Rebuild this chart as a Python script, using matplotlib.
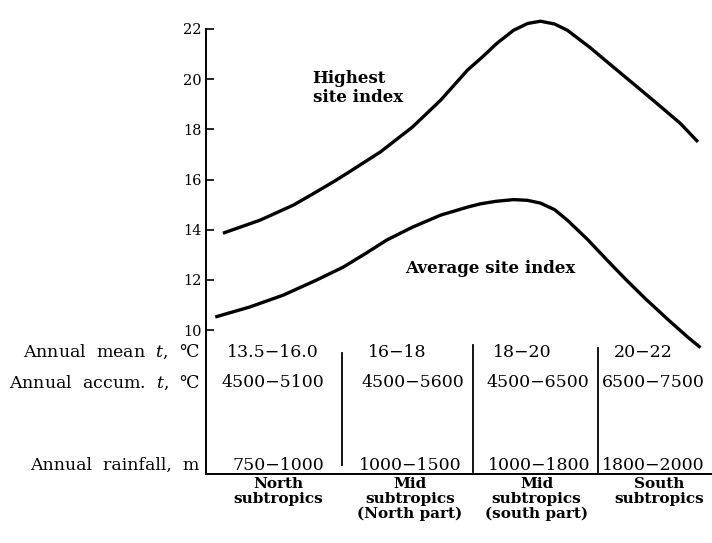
import matplotlib
matplotlib.use("Agg")
import matplotlib.pyplot as plt

plt.rcParams["font.family"] = ["DejaVu Serif"]
plt.rcParams["mathtext.fontset"] = "dejavuserif"

# Curves (zone position along the gradient, site index)
highest_x = [0.07, 0.36, 0.62, 0.77, 0.93, 1.04, 1.30, 1.55, 1.77, 1.98, 2.10, 2.21, 2.34, 2.45, 2.55, 2.66, 2.76, 2.94, 3.12, 3.28, 3.43, 3.64, 3.78]
highest_y = [13.86, 14.38, 14.98, 15.42, 15.9, 16.25, 17.1, 18.09, 19.16, 20.36, 20.9, 21.43, 21.95, 22.22, 22.31, 22.2, 21.95, 21.25, 20.48, 19.8, 19.16, 18.25, 17.5]

average_x = [0.01, 0.28, 0.54, 0.80, 1.01, 1.19, 1.35, 1.55, 1.77, 1.98, 2.08, 2.20, 2.34, 2.45, 2.55, 2.66, 2.76, 2.92, 3.07, 3.22, 3.38, 3.55, 3.70, 3.80]
average_y = [10.52, 10.92, 11.39, 11.99, 12.51, 13.07, 13.59, 14.1, 14.58, 14.9, 15.03, 15.13, 15.2, 15.17, 15.06, 14.8, 14.38, 13.6, 12.79, 12.0, 11.2, 10.4, 9.72, 9.3]

# Table below the curves
row_labels = ["Annual  mean  $t$,  \u2103", "Annual  accum.  $t$,  \u2103", "Annual  rainfall,  m"]
mean_temp = ["13.5\u221216.0", "16\u221218", "18\u221220", "20\u221222"]
accum_temp = ["4500\u22125100", "4500\u22125600", "4500\u22126500", "6500\u22127500"]
rainfall = ["750\u22121000", "1000\u22121500", "1000\u22121800", "1800\u22122000"]
zones = ["North\nsubtropics", "Mid\nsubtropics\n(North part)", "Mid\nsubtropics\n(south part)", "South\nsubtropics"]
yticks = [10, 12, 14, 16, 18, 20, 22]

# layout
row_y = [9.12, 7.89, 4.62]
row_x = [
    [0.46, 1.43, 2.41, 3.35],
    [0.46, 1.55, 2.53, 3.43],
    [0.50, 1.53, 2.54, 3.43],
]
zone_x = [0.50, 1.53, 2.52, 3.48]
dividers = [(1.0, 9.08, 4.62), (2.02, 9.4, 4.34), (3.0, 9.28, 4.34)]

fig = plt.figure(figsize=(7.12, 5.43), dpi=100)
ax = fig.add_axes([0.2893, 0.1271, 0.7107, 0.8195])
ax.set_xlim(-0.0625, 3.89)
ax.set_ylim(4.263, 22)

ax.plot(highest_x, highest_y, color="black", lw=2.4, clip_on=False, solid_capstyle="butt")
ax.plot(average_x, average_y, color="black", lw=2.4, clip_on=False, solid_capstyle="butt")

ax.text(0.77, 19.66, "Highest\nsite index", fontsize=12, fontweight="bold",
        ha="left", va="center", linespacing=1.15)
ax.text(1.49, 12.47, "Average site index", fontsize=12, fontweight="bold", ha="left", va="center")

for vals, y, xs in zip([mean_temp, accum_temp, rainfall], row_y, row_x):
    for v, x in zip(vals, xs):
        ax.text(x, y, v, fontsize=12.5, ha="center", va="center")

for lab, y in zip(row_labels, row_y):
    ax.text(-0.11, y, lab, fontsize=12.5, ha="right", va="center", clip_on=False)

for lab, x in zip(zones, zone_x):
    ax.text(x, 4.14, lab, fontsize=11, fontweight="bold", ha="center", va="top",
            linespacing=1.05, clip_on=False)

for x, y0, y1 in dividers:
    ax.plot([x, x], [y0, y1], color="black", lw=1.3)

for s in ["top", "right"]:
    ax.spines[s].set_visible(False)
ax.spines["left"].set_linewidth(1.4)
ax.spines["bottom"].set_linewidth(1.4)
ax.set_yticks(yticks)
ax.set_xticks([])
ax.tick_params(axis="y", direction="in", length=6, width=1.2, labelsize=10.5, pad=3)

fig.savefig("out.png", dpi=100)
